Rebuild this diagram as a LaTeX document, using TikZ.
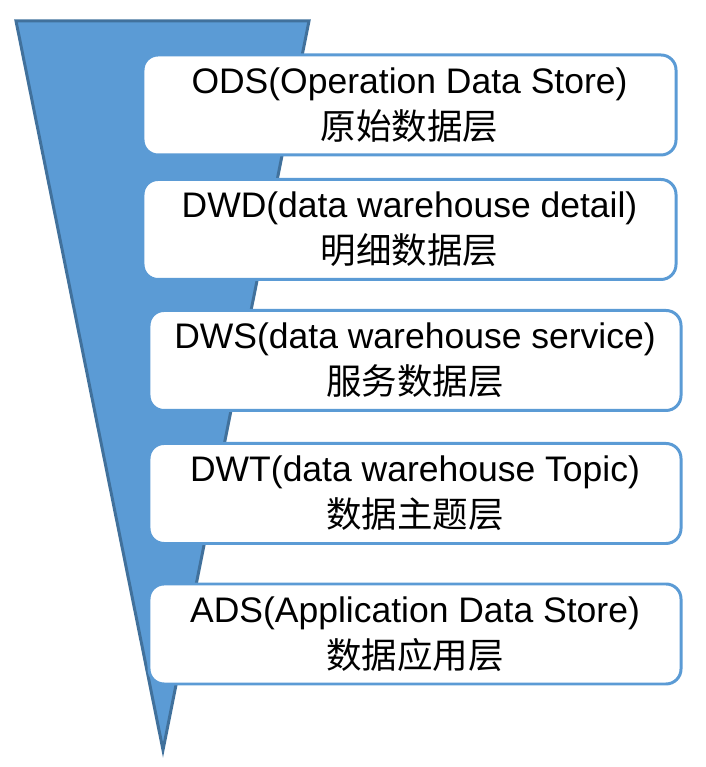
\documentclass[tikz,border=0pt]{standalone}
\usepackage{fontspec}
\setmainfont{Liberation Sans}
\newfontfamily\cjk{Noto Sans CJK SC}
\definecolor{funnelblue}{HTML}{5B9BD5}
\definecolor{funneledge}{HTML}{41719C}

\begin{document}
\begin{tikzpicture}[
    layerbox/.style={draw=funnelblue,fill=white,line width=1.7pt,rounded corners=0.3cm,
      minimum height=2cm,inner sep=0pt,align=center,font=\fontsize{20.2pt}{26pt}\selectfont}]
    \useasboundingbox (0cm,0cm) rectangle (14.1cm,15.34cm);

    \draw[fill=funnelblue,draw=funneledge,line width=1.7pt,line join=miter]
    (0.32cm,14.92cm) -- (6.18cm,14.92cm) -- (3.26cm,0.34cm) -- cycle;

    \node[layerbox,minimum width=10.66cm] (ods) at (8.19cm,13.24cm)
    {ODS(Operation Data Store)\\{\cjk 原始数据层}};
    \node[layerbox,minimum width=10.66cm] (dwd) at (8.19cm,10.75cm)
    {DWD(data warehouse detail)\\{\cjk 明细数据层}};
    \node[layerbox,minimum width=10.64cm] (dws) at (8.30cm,8.13cm)
    {DWS(data warehouse service)\\{\cjk 服务数据层}};
    \node[layerbox,minimum width=10.64cm] (dwt) at (8.30cm,5.47cm)
    {DWT(data warehouse Topic)\\{\cjk 数据主题层}};
    \node[layerbox,minimum width=10.64cm] (ads) at (8.30cm,2.66cm)
    {ADS(Application Data Store)\\{\cjk 数据应用层}};
  \end{tikzpicture}
\end{document}
